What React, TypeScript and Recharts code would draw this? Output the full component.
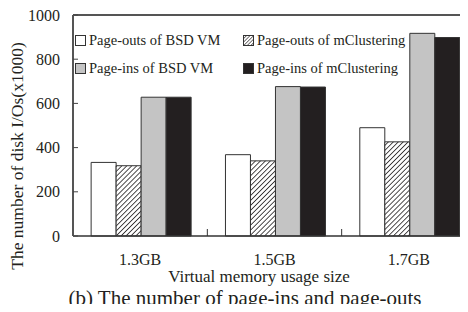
import React from "react";
import { BarChart, Bar, XAxis, YAxis, ReferenceLine } from "recharts";

const sizes = ["1.3GB", "1.5GB", "1.7GB"];
const outsBsd = [333, 368, 490];
const outsCluster = [318, 340, 426];
const insBsd = [628, 676, 917];
const insCluster = [628, 674, 898];
const yTicks = [0, 200, 400, 600, 800, 1000];

const seriesInfo = [
  { key: "outsBsd", name: "Page-outs of BSD VM", fill: "#ffffff" },
  { key: "outsCluster", name: "Page-outs of mClustering", fill: "url(#hatch)" },
  { key: "insBsd", name: "Page-ins of BSD VM", fill: "#c4c4c4" },
  { key: "insCluster", name: "Page-ins of mClustering", fill: "#231f20" },
];

const data = sizes.map((s, i) => ({
  size: s,
  outsBsd: outsBsd[i],
  outsCluster: outsCluster[i],
  insBsd: insBsd[i],
  insCluster: insCluster[i],
}));

const FONT = '"Liberation Serif", "DejaVu Serif", serif';
const INK = "#231f20";
const CHART_W = 480;
const LEFT = 73;
const RIGHT_M = 4;
const BAND = (CHART_W - LEFT - RIGHT_M) / sizes.length;

function CategoryTick(props: any) {
  const { x, y, payload, index } = props;
  return (
    <g>
      {index < sizes.length - 1 && (
        <line x1={x + BAND / 2} x2={x + BAND / 2} y1={y} y2={y - 7} stroke="#333" strokeWidth={1} />
      )}
      <text x={x} y={y + 29} textAnchor="middle" fontSize={16} fontFamily={FONT} fill={INK}>
        {payload.value}
      </text>
    </g>
  );
}

function ValueTick(props: any) {
  const { x, y, payload } = props;
  return (
    <g>
      <line x1={x} x2={x + 5} y1={y} y2={y} stroke="#444" strokeWidth={1} />
      <text x={x - 13} y={y + 5.5} textAnchor="end" fontSize={16} fontFamily={FONT} fill={INK}>
        {payload.value}
      </text>
    </g>
  );
}

function LegendBox() {
  const sw = (fill: string) => (
    <svg width={11} height={11} style={{ marginRight: 3 }}>
      <defs>
        <pattern id="hatchL" patternUnits="userSpaceOnUse" width={2.5} height={2.5} patternTransform="rotate(45)">
          <rect width={2.5} height={2.5} fill="#fff" />
          <line x1={0} y1={0} x2={0} y2={2.5} stroke={INK} strokeWidth={1.2} />
        </pattern>
      </defs>
      <rect x={0.5} y={0.5} width={10} height={10} fill={fill === "url(#hatch)" ? "url(#hatchL)" : fill} stroke="#333" />
    </svg>
  );
  const cell = (i: number) => (
    <div style={{ display: "flex", alignItems: "center", height: 28 }}>
      {sw(seriesInfo[i].fill)}
      <span>{seriesInfo[i].name}</span>
    </div>
  );
  return (
    <div
      style={{
        position: "absolute",
        left: 75,
        top: 26,
        display: "grid",
        gridTemplateColumns: "168px 200px",
        fontFamily: FONT,
        fontSize: 14.5,
        color: INK,
        lineHeight: "16px",
      }}
    >
      {cell(0)}
      {cell(1)}
      {cell(2)}
      {cell(3)}
    </div>
  );
}

export default function App() {
  return (
    <div
      style={{
        position: "relative",
        width: 468,
        height: 312,
        margin: -8,
        overflow: "hidden",
        background: "#fff",
      }}
    >
      <BarChart
        width={CHART_W}
        height={312}
        data={data}
        margin={{ top: 15, right: RIGHT_M, bottom: 46, left: 0 }}
        barCategoryGap="13.5%"
        barGap={0}
      >
        <defs>
          <pattern id="hatch" patternUnits="userSpaceOnUse" width={3.5} height={3.5} patternTransform="rotate(45)">
            <rect width={3.5} height={3.5} fill="#fff" />
            <line x1={0} y1={0} x2={0} y2={3.5} stroke={INK} strokeWidth={1.6} />
          </pattern>
        </defs>
        <XAxis
          dataKey="size"
          height={30}
          axisLine={{ stroke: "#333", strokeWidth: 1.5 }}
          tickLine={false}
          tickSize={0}
          tickMargin={0}
          tick={<CategoryTick />}
        />
        <YAxis
          width={LEFT}
          domain={[0, 1000]}
          ticks={yTicks}
          tickSize={0}
          tickMargin={0}
          axisLine={{ stroke: "#555", strokeWidth: 2 }}
          tickLine={false}
          tick={<ValueTick />}
        />
        <ReferenceLine y={1000} stroke="#555" strokeWidth={2} />
        {seriesInfo.map((s) => (
          <Bar
            key={s.key}
            dataKey={s.key}
            name={s.name}
            fill={s.fill}
            stroke="#333"
            strokeWidth={1}
            isAnimationActive={false}
          />
        ))}
      </BarChart>
      <LegendBox />
      <div
        style={{
          position: "absolute",
          left: 17,
          top: 156,
          transform: "translate(-50%, -50%) rotate(-90deg)",
          whiteSpace: "nowrap",
          fontFamily: FONT,
          fontSize: 17.5,
          lineHeight: "18px",
          color: INK,
        }}
      >
        The number of disk I/Os(x1000)
      </div>
      <div
        style={{
          position: "absolute",
          left: 0,
          width: 518,
          top: 268,
          lineHeight: "18px",
          textAlign: "center",
          fontFamily: FONT,
          fontSize: 17,
          color: INK,
        }}
      >
        Virtual memory usage size
      </div>
      <div
        style={{
          position: "absolute",
          left: 0,
          width: 490,
          top: 286,
          lineHeight: "24px",
          textAlign: "center",
          whiteSpace: "nowrap",
          fontFamily: FONT,
          fontSize: 21,
          color: INK,
        }}
      >
        (b) The number of page-ins and page-outs
      </div>
    </div>
  );
}
